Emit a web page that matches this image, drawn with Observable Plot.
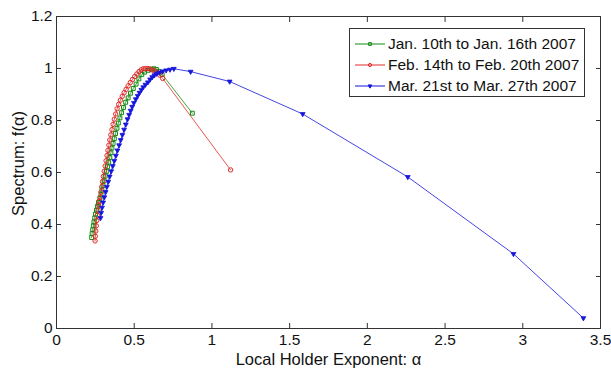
<!DOCTYPE html>
<html>
<head>
<meta charset="utf-8">
<script src="https://cdn.jsdelivr.net/npm/d3@7"></script>
<script src="https://cdn.jsdelivr.net/npm/@observablehq/plot@0.6"></script>
<style>
  html, body { margin: 0; padding: 0; background: #fff; }
  #wrap { position: relative; width: 611px; height: 368px; font-family: "Liberation Sans", Arial, sans-serif; }
  #legend { position: absolute; left: 349px; top: 28px; width: 234px; height: 67px; border: 1px solid #333; background: #fff; }
  .row { position: absolute; left: 0; height: 20px; display: flex; align-items: center; font-size: 15.5px; color: #111; white-space: nowrap; }
  .row svg { margin-left: 5px; margin-right: 3px; }
</style>
</head>
<body>
<div id="wrap"></div>
<script>
// ---- data ----
const seriesNames = ["Jan. 10th to Jan. 16th 2007", "Feb. 14th to Feb. 20th 2007", "Mar. 21st to Mar. 27th 2007"];
const seriesColors = ["#118a11", "#e02a2a", "#1515dd"];
const seriesSymbols = ["square", "circle", "triangle"];

const janAlpha = [0.226,0.229,0.233,0.237,0.241,0.246,0.251,0.257,0.263,0.270,0.279,0.286,0.292,0.299,0.306,0.313,0.321,0.328,0.336,0.343,0.350,0.357,0.364,0.372,0.380,0.389,0.398,0.408,0.419,0.431,0.445,0.461,0.476,0.494,0.512,0.530,0.549,0.566,0.590,0.611,0.627,0.643,0.659,0.680,0.874];
const janF     = [0.350,0.365,0.380,0.395,0.410,0.425,0.440,0.455,0.470,0.485,0.500,0.515,0.532,0.550,0.568,0.586,0.604,0.622,0.640,0.658,0.676,0.694,0.712,0.730,0.750,0.770,0.790,0.810,0.830,0.850,0.870,0.887,0.905,0.923,0.940,0.960,0.977,0.986,0.993,0.997,0.999,0.996,0.989,0.977,0.828];

const febAlpha = [0.248,0.250,0.253,0.256,0.259,0.263,0.267,0.271,0.276,0.281,0.286,0.291,0.296,0.301,0.307,0.313,0.319,0.325,0.331,0.337,0.343,0.350,0.357,0.364,0.372,0.381,0.390,0.400,0.411,0.423,0.435,0.448,0.461,0.475,0.489,0.503,0.517,0.531,0.545,0.559,0.573,0.588,0.603,0.618,0.633,0.648,0.665,0.683,1.120];
const febF     = [0.337,0.355,0.375,0.395,0.415,0.435,0.455,0.475,0.490,0.505,0.525,0.545,0.565,0.585,0.605,0.625,0.645,0.665,0.685,0.705,0.725,0.745,0.765,0.785,0.805,0.825,0.845,0.862,0.878,0.893,0.907,0.920,0.933,0.946,0.958,0.969,0.979,0.988,0.995,0.999,1.000,1.000,0.998,0.994,0.990,0.984,0.974,0.962,0.610];

const marAlpha = [0.283,0.287,0.293,0.300,0.308,0.316,0.324,0.333,0.342,0.352,0.362,0.372,0.382,0.392,0.403,0.413,0.424,0.435,0.446,0.457,0.467,0.477,0.487,0.498,0.510,0.522,0.534,0.546,0.558,0.572,0.588,0.602,0.616,0.630,0.645,0.662,0.682,0.705,0.730,0.755,0.863,1.114,1.584,2.260,2.940,3.390];
const marF     = [0.425,0.445,0.465,0.485,0.505,0.525,0.545,0.565,0.585,0.605,0.625,0.645,0.665,0.685,0.705,0.725,0.745,0.765,0.785,0.805,0.822,0.838,0.853,0.868,0.882,0.895,0.907,0.918,0.928,0.938,0.947,0.958,0.967,0.974,0.980,0.985,0.989,0.993,0.996,0.999,0.988,0.950,0.825,0.583,0.287,0.040];

const xTicks = [0, 0.5, 1, 1.5, 2, 2.5, 3, 3.5];
const yTicks = [0, 0.2, 0.4, 0.6, 0.8, 1, 1.2];
const xLabel = "Local Holder Exponent: α";
const yLabel = "Spectrum: f(α)";

// ---- build table ----
const alphas = [janAlpha, febAlpha, marAlpha];
const fs = [janF, febF, marF];
const rows = [];
alphas.forEach((arr, s) => arr.forEach((a, i) => rows.push({series: seriesNames[s], alpha: a, f: fs[s][i], idx: s})));

const fmt = d => String(d);

const chart = Plot.plot({
  width: 611,
  height: 368,
  marginLeft: 56,
  marginRight: 11,
  marginTop: 16,
  marginBottom: 40,
  style: {fontFamily: "'Liberation Sans', Arial, sans-serif", fontSize: "15.5px", color: "#222", background: "#fff", overflow: "visible"},
  x: {domain: [0, 3.5]},
  y: {domain: [0, 1.2]},
  color: {domain: seriesNames, range: seriesColors},
  symbol: {domain: seriesNames, range: seriesSymbols},
  marks: [
    Plot.frame({stroke: "#333", strokeWidth: 1}),
    Plot.axisX(xTicks, {anchor: "bottom", tickSize: -5, tickPadding: 10, tickFormat: fmt, label: null, stroke: "#333", fill: "#111"}),
    Plot.axisX(xTicks, {anchor: "top", tickSize: -5, tickFormat: () => "", label: null, stroke: "#333"}),
    Plot.axisY(yTicks, {anchor: "left", tickSize: -5, tickPadding: 9, tickFormat: fmt, label: null, stroke: "#333", fill: "#111"}),
    Plot.axisY(yTicks, {anchor: "right", tickSize: -5, tickFormat: () => "", label: null, stroke: "#333"}),
    Plot.line(rows, {x: "alpha", y: "f", z: "series", stroke: "series", strokeWidth: 0.8}),
    Plot.dot(rows.filter(d => d.idx !== 2), {x: "alpha", y: "f", stroke: "series", symbol: "series", r: 2.2, strokeWidth: 1, fill: "none"}),
    Plot.dot(rows.filter(d => d.idx === 2), {x: "alpha", y: "f", stroke: "series", fill: "series", symbol: "series", r: 1.8, strokeWidth: 0.8, rotate: 180}),
    Plot.text([xLabel], {text: d => d, frameAnchor: "bottom", textAnchor: "middle", lineAnchor: "middle", dy: 31, fontSize: 16.5, fill: "#111"}),
    Plot.text([yLabel], {text: d => d, frameAnchor: "left", textAnchor: "middle", lineAnchor: "middle", dx: -38, dy: -9, rotate: -90, fontSize: 16.5, fill: "#111"})
  ]
});

const wrap = document.getElementById("wrap");
wrap.appendChild(chart);

// legend
const legend = document.createElement("div");
legend.id = "legend";
const rowTops = [5, 26, 47];
seriesNames.forEach((name, i) => {
  const row = document.createElement("div");
  row.className = "row";
  row.style.top = rowTops[i] + "px";
  const sym = d3.symbol().type([d3.symbolSquare, d3.symbolCircle, d3.symbolTriangle][i]).size(i === 2 ? 6 : 8)();
  row.innerHTML = `<svg width="30" height="12"><line x1="0" x2="30" y1="6" y2="6" stroke="${seriesColors[i]}" stroke-width="1"/>` +
    `<path d="${sym}" transform="translate(15,6)${i === 2 ? ' rotate(180)' : ''}" fill="${i === 2 ? seriesColors[i] : 'none'}" stroke="${seriesColors[i]}" stroke-width="1"/></svg>` +
    `<span>${name}</span>`;
  legend.appendChild(row);
});
wrap.appendChild(legend);
</script>
</body>
</html>
